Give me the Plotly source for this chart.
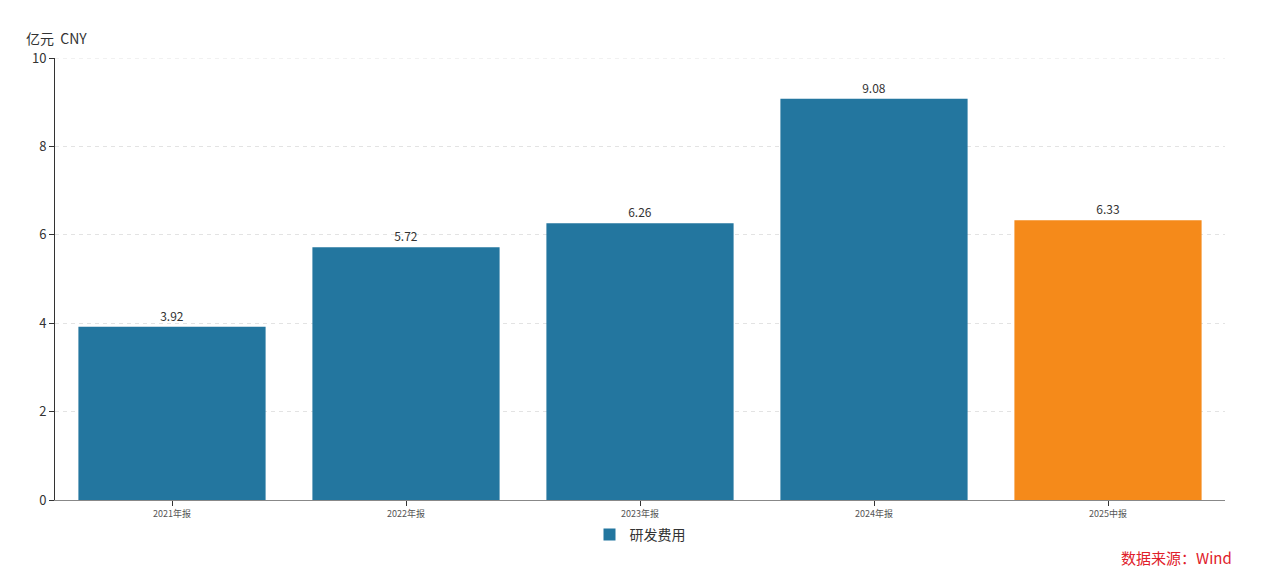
import plotly.graph_objects as go

# R&D expense per reporting period (亿元)
periods = ['2021年报', '2022年报', '2023年报', '2024年报', '2025中报']
rd_cost = [3.92, 5.72, 6.26, 9.08, 6.33]
bar_colors = ['#23769F', '#23769F', '#23769F', '#23769F', '#F58A1A']
y_max = 10

fig = go.Figure()
fig.add_trace(go.Bar(
    x=periods,
    y=rd_cost,
    name='研发费用',
    marker=dict(color=bar_colors, line=dict(width=0)),
    text=[f'{v:.2f}' for v in rd_cost],
    textposition='outside',
    textfont=dict(size=12, color='#333333'),
    cliponaxis=False,
    showlegend=True,
))

# page body adds an 8px offset, so margins are trimmed to land the plot box at 55..1225 / 58..500
fig.update_layout(
    width=1255, height=574,
    margin=dict(l=47, r=38, t=50, b=82),
    plot_bgcolor='white', paper_bgcolor='white',
    font=dict(family='Noto Sans CJK SC', color='#333333'),
    bargap=0.2,
    showlegend=True,
    legend=dict(orientation='h', x=0.5, xanchor='center', y=-0.079, yanchor='middle',
                font=dict(size=14, color='#333333'), itemwidth=30),
    xaxis=dict(
        showline=True, linecolor='#888888', linewidth=1,
        ticks='outside', ticklen=5, tickcolor='#333333',
        tickfont=dict(size=9, color='#555555'),
        showgrid=False,
    ),
    yaxis=dict(
        range=[0, y_max], tickvals=[0, 2, 4, 6, 8, 10],
        showline=True, linecolor='#333333', linewidth=1,
        ticks='outside', ticklen=5, tickcolor='#333333',
        tickfont=dict(size=13, color='#333333'),
        showgrid=True, gridcolor='#E3E3E3', griddash='4px,4px', gridwidth=1,
        zeroline=False,
    ),
    # plotly skips the grid line at the top edge, draw it by hand
    shapes=[dict(type='line', xref='paper', yref='y', x0=0, x1=1, y0=y_max, y1=y_max,
                 line=dict(color='#E3E3E3', width=1, dash='4px,4px'), layer='below')],
    annotations=[
        dict(text='亿元  CNY', xref='paper', yref='paper', x=-0.0265, y=1.045,
             xanchor='left', yanchor='middle', showarrow=False,
             font=dict(size=14, color='#333333')),
        dict(text='数据来源：Wind', xref='paper', yref='paper', x=1.0077, y=-0.131,
             xanchor='right', yanchor='middle', showarrow=False,
             font=dict(size=15, color='#E0202A')),
    ],
)

fig.write_html('out.html')
